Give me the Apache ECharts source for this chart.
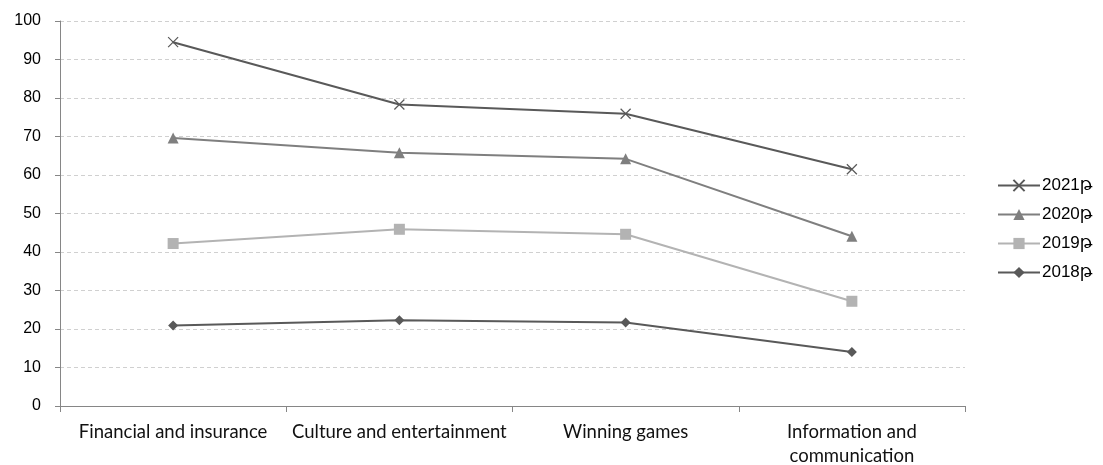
<!DOCTYPE html>
<html>
<head>
<meta charset="utf-8">
<script src="https://cdn.jsdelivr.net/npm/echarts@6/dist/echarts.min.js"></script>
<style>html,body{margin:0;padding:0;background:#fff}#c{width:1103px;height:465px}</style>
</head>
<body>
<div id="c"></div>
<script>
const categories = ['Financial and insurance', 'Culture and entertainment', 'Winning games', 'Information and\ncommunication'];
const seriesNames = ['2021թ', '2020թ', '2019թ', '2018թ'];
const v2021 = [94.5, 78.3, 75.9, 61.5];
const v2020 = [69.6, 65.8, 64.2, 44.1];
const v2019 = [42.2, 45.9, 44.6, 27.2];
const v2018 = [20.9, 22.3, 21.7, 14.0];
const yTicks = [0, 10, 20, 30, 40, 50, 60, 70, 80, 90, 100];

const colors = ['#595959', '#7f7f7f', '#b3b3b3', '#595959'];
const symbols = ['path://M0,0L10,10M10,0L0,10', 'triangle', 'rect', 'diamond'];
const sizes = [10, 11, 11, 10];
const values = [v2021, v2020, v2019, v2018];

const chart = echarts.init(document.getElementById('c'), null, {renderer: 'canvas'});
chart.setOption({
  animation: false,
  backgroundColor: '#fff',
  grid: {left: 60, right: 138, top: 21, bottom: 59, containLabel: false, outerBoundsMode: 'none'},
  legend: {
    orient: 'vertical', left: 992, top: 172,
    itemWidth: 42, itemHeight: 14, itemGap: 12,
    textStyle: {fontFamily: 'Liberation Sans, DejaVu Sans', fontSize: 17, color: '#000', padding: [0,0,0,-3]},
    data: seriesNames
  },
  xAxis: {
    type: 'category', data: categories, boundaryGap: true,
    axisLine: {lineStyle: {color: '#868686', width: 1}},
    axisTick: {show: true, length: 6, lineStyle: {color: '#868686'}},
    axisLabel: {fontFamily: 'Lato', fontSize: 18.5, color: '#111', margin: 14, lineHeight: 24, interval: 0}
  },
  yAxis: {
    type: 'value', min: 0, max: 100, interval: 10,
    axisLine: {show: true, lineStyle: {color: '#868686'}},
    axisTick: {show: true, length: 5, lineStyle: {color: '#868686'}},
    axisLabel: {fontFamily: 'Liberation Sans', fontSize: 16, color: '#000', margin: 19,
      formatter: v => yTicks.includes(v) ? String(v) : ''},
    splitLine: {lineStyle: {color: '#d0d0d0', type: [4, 3], width: 1}}
  },
  series: seriesNames.map((n, i) => ({
    name: n, type: 'line', data: values[i],
    symbol: symbols[i], symbolSize: sizes[i], showSymbol: true,
    lineStyle: {color: colors[i], width: 2},
    itemStyle: {color: i === 0 ? 'rgba(0,0,0,0)' : colors[i], borderColor: colors[i], borderWidth: i === 0 ? 1.2 : 0},
    z: 10 - i
  }))
});
</script>
</body>
</html>
